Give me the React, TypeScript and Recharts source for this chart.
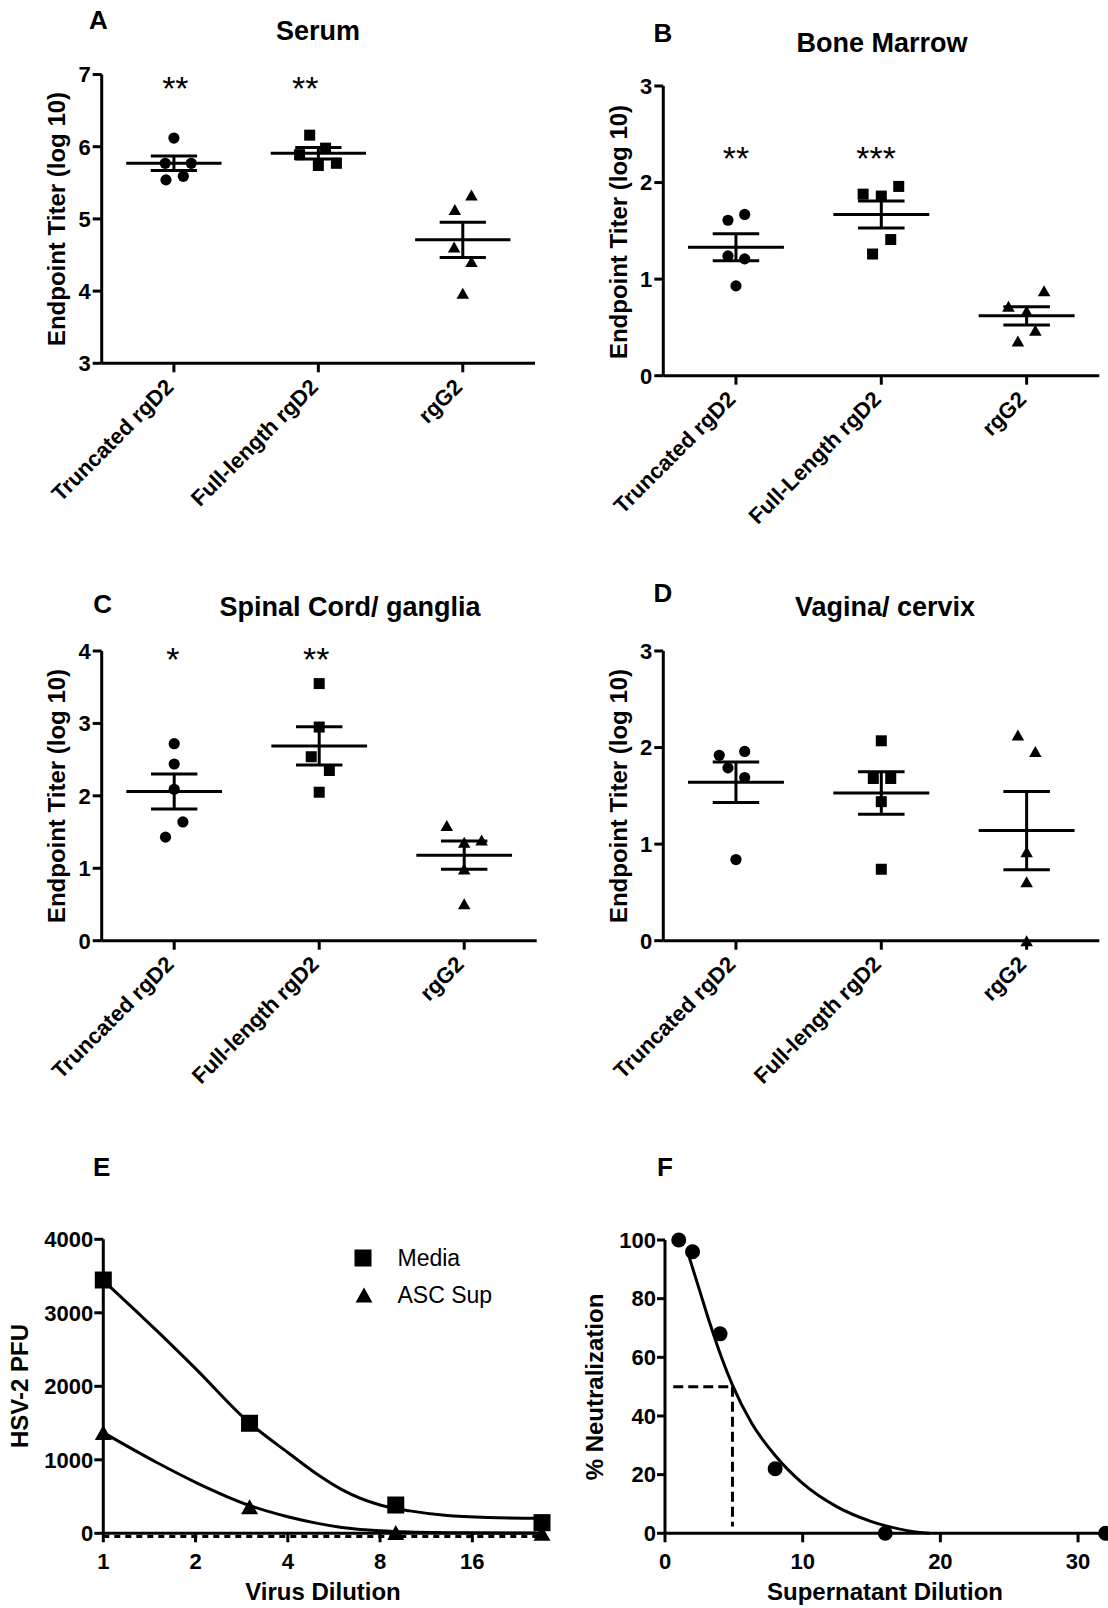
import React from 'react';
import { ComposedChart, Scatter, Line, XAxis, YAxis, ReferenceLine } from 'recharts';

const FONT = '"Liberation Sans", Arial, Helvetica, sans-serif';
const BLACK = '#000';

// ---------- Panels A–D (dot plots, log10 endpoint titers) ----------
const groupLabels = ['Truncated rgD2', 'Full-length rgD2', 'rgG2'];
const groupLabelsB = ['Truncated rgD2', 'Full-Length rgD2', 'rgG2'];

// A – Serum
const serumTruncated = [6.12, 5.77, 5.77, 5.54, 5.59];
const serumFull = [6.16, 5.89, 5.98, 5.74, 5.77];
const serumG2 = [5.13, 5.33, 4.61, 4.41, 3.97];
const serumMean = [5.77, 5.91, 4.71];
const serumSem = [0.1, 0.08, 0.245];
const serumStars = ['**', '**', ''];
const serumTicks = [3, 4, 5, 6, 7];

// B – Bone Marrow
const marrowTruncated = [1.61, 1.67, 1.24, 1.21, 0.93];
const marrowFull = [1.88, 1.86, 1.96, 1.41, 1.26];
const marrowG2 = [0.72, 0.67, 0.88, 0.47, 0.36];
const marrowMean = [1.33, 1.67, 0.62];
const marrowSem = [0.14, 0.14, 0.095];
const marrowStars = ['**', '***', ''];
const marrowTicks = [0, 1, 2, 3];

// C – Spinal Cord/ ganglia
const spinalTruncated = [2.72, 2.44, 2.09, 1.64, 1.43];
const spinalFull = [3.55, 2.95, 2.54, 2.35, 2.05];
const spinalG2 = [1.59, 1.36, 1.39, 0.99, 0.51];
const spinalMean = [2.06, 2.69, 1.18];
const spinalSem = [0.24, 0.265, 0.195];
const spinalStars = ['*', '**', ''];
const spinalTicks = [0, 1, 2, 3, 4];

// D – Vagina/ cervix
const vaginaTruncated = [1.92, 1.96, 1.79, 1.69, 0.84];
const vaginaFull = [2.07, 1.68, 1.68, 1.44, 0.74];
const vaginaG2 = [2.13, 1.96, 0.92, 0.61, 0.0];
const vaginaMean = [1.64, 1.53, 1.14];
const vaginaSem = [0.21, 0.22, 0.405];
const vaginaStars = ['', '', ''];
const vaginaTicks = [0, 1, 2, 3];

// horizontal scatter of replicate points within each group (category units)
const serumJitter = [[0, -0.06, 0.12, -0.055, 0.065], [-0.06, -0.13, 0.05, 0, 0.125], [-0.055, 0.06, -0.06, 0.06, 0]];
const marrowJitter = [[-0.055, 0.06, -0.055, 0.06, 0], [-0.125, 0, 0.12, 0.065, -0.06], [-0.125, 0, 0.12, 0.06, -0.06]];
const spinalJitter = [[0, 0, 0, 0.06, -0.06], [0, 0, -0.055, 0.07, 0], [-0.12, 0, 0.12, 0, 0]];
const vaginaJitter = [[-0.115, 0.06, -0.055, 0.06, 0], [0, -0.055, 0.065, 0, 0], [-0.06, 0.06, 0, 0, 0]];

// ---------- Panel E ----------
const virusDilution = [1, 3, 9, 27];
const mediaPfu = [3446, 1497, 385, 145];
const ascSupPfu = [1370, 362, 10, 0];
const mediaFitX = [1, 1.5, 2, 3, 4, 5, 6, 8, 10, 13, 18, 27];
const mediaFitY = [3440, 2750, 2240, 1500, 1100, 800, 595, 385, 305, 245, 214, 204];
const ascFitX = [1, 1.5, 2, 3, 4, 5, 6, 8, 10, 15, 27];
const ascFitY = [1370, 960, 694, 378, 225, 135, 80, 35, 18, 7, 3];
const virusTicks = [1, 2, 4, 8, 16];
const pfuTicks = [0, 1000, 2000, 3000, 4000];

// ---------- Panel F ----------
const supDilution = [1, 2, 4, 8, 16, 32];
const neutralization = [100, 96, 68, 22, 0, 0];
const neutFitX = [1.7, 2.5, 3.3, 4.1, 4.9, 6.3, 8, 10, 12.5, 15, 17.5, 19.2];
const neutFitY = [95, 83, 71, 60, 50.5, 37.5, 26.5, 17, 9, 4, 1, 0];
const ic50Dilution = 4.9;
const ic50Level = 50;
const supTicks = [0, 10, 20, 30];
const neutTicks = [0, 20, 40, 60, 80, 100];

// ---------- helpers ----------
const axisLine = { stroke: BLACK, strokeWidth: 3 };
const tickLine = { stroke: BLACK, strokeWidth: 3 };
const tickFont = { fill: BLACK, fontSize: 22, fontWeight: 700, fontFamily: FONT };

const circleShape = (r: number) => (p: any) =>
  p.cx == null ? <g /> : <circle cx={p.cx} cy={p.cy} r={r} fill={BLACK} />;
const squareShape = (s: number) => (p: any) =>
  p.cx == null ? <g /> : <rect x={p.cx - s / 2} y={p.cy - s / 2} width={s} height={s} fill={BLACK} />;
const triangleShape = (w: number, h: number) => (p: any) =>
  p.cx == null ? (
    <g />
  ) : (
    <polygon
      points={`${p.cx},${p.cy - h / 2} ${p.cx - w / 2},${p.cy + h / 2} ${p.cx + w / 2},${p.cy + h / 2}`}
      fill={BLACK}
    />
  );
const starShape = (p: any) =>
  p.cx == null ? (
    <g />
  ) : (
    <text x={p.cx} y={p.cy + 20} textAnchor="middle" fontSize={34} fontFamily={FONT} fill={BLACK}>
      {p.payload.label}
    </text>
  );

type Box = { L: number; T: number; W: number; H: number };
type Plot = { left: number; top: number; right: number; bottom: number };

const marginFor = (box: Box, plot: Plot) => ({
  top: plot.top - box.T,
  right: box.L + box.W - plot.right,
  bottom: 0,
  left: 0,
});

const RotTick = (props: any) => {
  const { x, y, payload, labels } = props;
  const label = labels[Math.floor(payload.value)];
  return (
    <text
      transform={`translate(${x + 1},${y + 14}) rotate(-45)`}
      textAnchor="end"
      fontSize={22}
      fontWeight={700}
      fontFamily={FONT}
      fill={BLACK}
    >
      {label}
    </text>
  );
};

type DotPanelProps = {
  box: Box;
  plot: Plot;
  yDomain: [number, number];
  yTicks: number[];
  groups: number[][];
  jitter: number[][];
  means: number[];
  sems: number[];
  stars: string[];
  starLevel: number;
  starShift: number[];
  labels: string[];
};

const MEAN_HALF = 0.33;
const CAP_HALF = 0.16;

function DotPanel(props: DotPanelProps) {
  const { box, plot, yDomain, yTicks, groups, jitter, means, sems, stars, starLevel, starShift, labels } = props;
  const shapes = [circleShape(5.6), squareShape(11), triangleShape(12.5, 11)];
  const starData = stars
    .map((s, i) => ({ x: i + 0.5 + starShift[i], y: starLevel, label: s }))
    .filter((d) => d.label !== '');
  const seg = (x1: number, y1: number, x2: number, y2: number, key: string) => (
    <ReferenceLine
      key={key}
      segment={[
        { x: x1, y: y1 },
        { x: x2, y: y2 },
      ]}
      stroke={BLACK}
      strokeWidth={3}
    />
  );
  return (
    <div style={{ position: 'absolute', left: box.L, top: box.T }}>
      <ComposedChart width={box.W} height={box.H} margin={marginFor(box, plot)}>
        <XAxis
          type="number"
          dataKey="x"
          domain={[0, 3]}
          ticks={[0.5, 1.5, 2.5]}
          interval={0}
          height={box.T + box.H - plot.bottom}
          axisLine={axisLine}
          tickLine={tickLine}
          tickSize={9}
          tick={(p: any) => <RotTick {...p} labels={labels} />}
        />
        <YAxis
          type="number"
          dataKey="y"
          domain={yDomain}
          ticks={yTicks}
          interval={0}
          width={plot.left - box.L}
          axisLine={axisLine}
          tickLine={tickLine}
          tickSize={9}
          tickMargin={2}
          tick={tickFont}
        />
        {groups.map((g, i) => (
          <Scatter
            key={`g${i}`}
            data={g.map((v, j) => ({ x: i + 0.5 + jitter[i][j], y: v }))}
            shape={shapes[i]}
            isAnimationActive={false}
          />
        ))}
        {means.map((m, i) => seg(i + 0.5 - MEAN_HALF, m, i + 0.5 + MEAN_HALF, m, `m${i}`))}
        {means.map((m, i) => seg(i + 0.5, m - sems[i], i + 0.5, m + sems[i], `v${i}`))}
        {means.map((m, i) => seg(i + 0.5 - CAP_HALF, m + sems[i], i + 0.5 + CAP_HALF, m + sems[i], `t${i}`))}
        {means.map((m, i) => seg(i + 0.5 - CAP_HALF, m - sems[i], i + 0.5 + CAP_HALF, m - sems[i], `b${i}`))}
        {starData.length > 0 && <Scatter data={starData} shape={starShape} isAnimationActive={false} />}
      </ComposedChart>
    </div>
  );
}

const Txt = ({
  x,
  y,
  size,
  weight = 700,
  rotate = 0,
  anchor = 'center',
  children,
}: {
  x: number;
  y: number;
  size: number;
  weight?: number;
  rotate?: number;
  anchor?: 'center' | 'left';
  children: React.ReactNode;
}) => (
  <div
    style={{
      position: 'absolute',
      left: x,
      top: y,
      transform: `${anchor === 'center' ? 'translate(-50%,-50%)' : 'translate(0,-50%)'} rotate(${rotate}deg)`,
      fontSize: size,
      fontWeight: weight,
      fontFamily: FONT,
      lineHeight: 1,
      whiteSpace: 'nowrap',
      color: BLACK,
    }}
  >
    {children}
  </div>
);

function PanelE() {
  const box = { L: 0, T: 1200, W: 554, H: 380 };
  const plot = { left: 103.3, top: 1239.3, right: 542, bottom: 1533.3 };
  const media = virusDilution.map((x, i) => ({ x, y: mediaPfu[i] }));
  const asc = virusDilution.map((x, i) => ({ x, y: ascSupPfu[i] }));
  const mediaFit = mediaFitX.map((x, i) => ({ x, y: mediaFitY[i] }));
  const ascFit = ascFitX.map((x, i) => ({ x, y: ascFitY[i] }));
  return (
    <div style={{ position: 'absolute', left: box.L, top: box.T }}>
      <ComposedChart width={box.W} height={box.H} margin={marginFor(box, plot)}>
        <XAxis
          type="number"
          dataKey="x"
          scale="log"
          domain={[1, 27]}
          ticks={virusTicks}
          interval={0}
          height={box.T + box.H - plot.bottom}
          axisLine={axisLine}
          tickLine={tickLine}
          tickSize={9}
          tickMargin={11}
          tick={tickFont}
        />
        <YAxis
          type="number"
          dataKey="y"
          domain={[0, 4000]}
          ticks={pfuTicks}
          interval={0}
          width={plot.left - box.L}
          axisLine={axisLine}
          tickLine={tickLine}
          tickSize={9}
          tickMargin={1}
          tick={tickFont}
        />
        <ReferenceLine y={-45} stroke={BLACK} strokeWidth={3} strokeDasharray="6 5" ifOverflow="visible" />
        <Line data={mediaFit} dataKey="y" type="monotone" stroke={BLACK} strokeWidth={3} dot={false} isAnimationActive={false} />
        <Line data={ascFit} dataKey="y" type="monotone" stroke={BLACK} strokeWidth={3} dot={false} isAnimationActive={false} />
        <Scatter data={media} shape={squareShape(17)} isAnimationActive={false} />
        <Scatter data={asc} shape={triangleShape(17, 15)} isAnimationActive={false} />
      </ComposedChart>
    </div>
  );
}

function PanelF() {
  const box = { L: 554, T: 1200, W: 554, H: 380 };
  const plot = { left: 665, top: 1240, right: 1105.6, bottom: 1533.3 };
  const pts = supDilution.map((x, i) => ({ x, y: neutralization[i] }));
  const fit = neutFitX.map((x, i) => ({ x, y: neutFitY[i] }));
  return (
    <div style={{ position: 'absolute', left: box.L, top: box.T }}>
      <ComposedChart width={box.W} height={box.H} margin={marginFor(box, plot)}>
        <XAxis
          type="number"
          dataKey="x"
          domain={[0, 32]}
          ticks={supTicks}
          interval={0}
          height={box.T + box.H - plot.bottom}
          axisLine={axisLine}
          tickLine={tickLine}
          tickSize={9}
          tickMargin={11}
          tick={tickFont}
        />
        <YAxis
          type="number"
          dataKey="y"
          domain={[0, 100]}
          ticks={neutTicks}
          interval={0}
          width={plot.left - box.L}
          axisLine={axisLine}
          tickLine={tickLine}
          tickSize={8}
          tickMargin={1}
          tick={tickFont}
        />
        <Line data={fit} dataKey="y" type="monotone" stroke={BLACK} strokeWidth={3} dot={false} isAnimationActive={false} />
        <ReferenceLine
          segment={[
            { x: 0.6, y: ic50Level },
            { x: ic50Dilution, y: ic50Level },
          ]}
          stroke={BLACK}
          strokeWidth={3}
          strokeDasharray="10 5"
        />
        <ReferenceLine
          segment={[
            { x: ic50Dilution, y: ic50Level },
            { x: ic50Dilution, y: 2.3 },
          ]}
          stroke={BLACK}
          strokeWidth={3}
          strokeDasharray="10 5"
        />
        <Scatter data={pts} shape={circleShape(7.5)} isAnimationActive={false} />
      </ComposedChart>
    </div>
  );
}

export default function App() {
  return (
    <div style={{ position: 'absolute', left: 0, top: 0, width: 1108, height: 1608, background: '#fff', overflow: 'hidden' }}>
      <DotPanel
        box={{ L: 0, T: 40, W: 554, H: 480 }}
        plot={{ left: 101.7, top: 74.5, right: 535, bottom: 363.3 }}
        yDomain={[3, 7]}
        yTicks={serumTicks}
        groups={[serumTruncated, serumFull, serumG2]}
        jitter={serumJitter}
        means={serumMean}
        sems={serumSem}
        stars={serumStars}
        starLevel={6.92}
        starShift={[0.01, -0.09, 0]}
        labels={groupLabels}
      />
      <DotPanel
        box={{ L: 554, T: 50, W: 554, H: 480 }}
        plot={{ left: 663.3, top: 86, right: 1099.3, bottom: 375.7 }}
        yDomain={[0, 3]}
        yTicks={marrowTicks}
        groups={[marrowTruncated, marrowFull, marrowG2]}
        jitter={marrowJitter}
        means={marrowMean}
        sems={marrowSem}
        stars={marrowStars}
        starLevel={2.34}
        starShift={[0, -0.035, 0]}
        labels={groupLabelsB}
      />
      <DotPanel
        box={{ L: 0, T: 620, W: 554, H: 480 }}
        plot={{ left: 101.7, top: 651, right: 536.7, bottom: 940.7 }}
        yDomain={[0, 4]}
        yTicks={spinalTicks}
        groups={[spinalTruncated, spinalFull, spinalG2]}
        jitter={spinalJitter}
        means={spinalMean}
        sems={spinalSem}
        stars={spinalStars}
        starLevel={4.0}
        starShift={[-0.01, -0.02, 0]}
        labels={groupLabels}
      />
      <DotPanel
        box={{ L: 554, T: 620, W: 554, H: 480 }}
        plot={{ left: 663.3, top: 651, right: 1099.3, bottom: 940.7 }}
        yDomain={[0, 3]}
        yTicks={vaginaTicks}
        groups={[vaginaTruncated, vaginaFull, vaginaG2]}
        jitter={vaginaJitter}
        means={vaginaMean}
        sems={vaginaSem}
        stars={vaginaStars}
        starLevel={3}
        starShift={[0, 0, 0]}
        labels={groupLabels}
      />
      <PanelE />
      <PanelF />

      {/* panel letters */}
      <Txt x={98.5} y={20} size={26}>A</Txt>
      <Txt x={663} y={33} size={26}>B</Txt>
      <Txt x={102.6} y={604} size={26}>C</Txt>
      <Txt x={663} y={593} size={26}>D</Txt>
      <Txt x={101.6} y={1167} size={26}>E</Txt>
      <Txt x={665} y={1167} size={26}>F</Txt>

      {/* titles */}
      <Txt x={318} y={31} size={27}>Serum</Txt>
      <Txt x={882} y={43} size={27}>Bone Marrow</Txt>
      <Txt x={350} y={607} size={27}>Spinal Cord/ ganglia</Txt>
      <Txt x={885} y={607} size={27}>Vagina/ cervix</Txt>

      {/* axis titles */}
      <Txt x={56.5} y={219} size={24} rotate={-90}>Endpoint Titer (log 10)</Txt>
      <Txt x={619} y={231.5} size={24} rotate={-90}>Endpoint Titer (log 10)</Txt>
      <Txt x={56.5} y={796} size={24} rotate={-90}>Endpoint Titer (log 10)</Txt>
      <Txt x={619} y={796} size={24} rotate={-90}>Endpoint Titer (log 10)</Txt>
      <Txt x={20} y={1386} size={24} rotate={-90}>HSV-2 PFU</Txt>
      <Txt x={323} y={1592} size={24}>Virus Dilution</Txt>
      <Txt x={595} y={1387} size={24} rotate={-90}>% Neutralization</Txt>
      <Txt x={885} y={1592} size={24}>Supernatant Dilution</Txt>

      {/* legend E */}
      <svg style={{ position: 'absolute', left: 350, top: 1245 }} width={28} height={64}>
        <rect x={4.5} y={4.5} width={17} height={17} fill={BLACK} />
        <polygon points="14,42.5 5.5,57.5 22.5,57.5" fill={BLACK} />
      </svg>
      <Txt x={397.5} y={1258} size={23} weight={400} anchor="left">Media</Txt>
      <Txt x={397.5} y={1295} size={23} weight={400} anchor="left">ASC Sup</Txt>
    </div>
  );
}
